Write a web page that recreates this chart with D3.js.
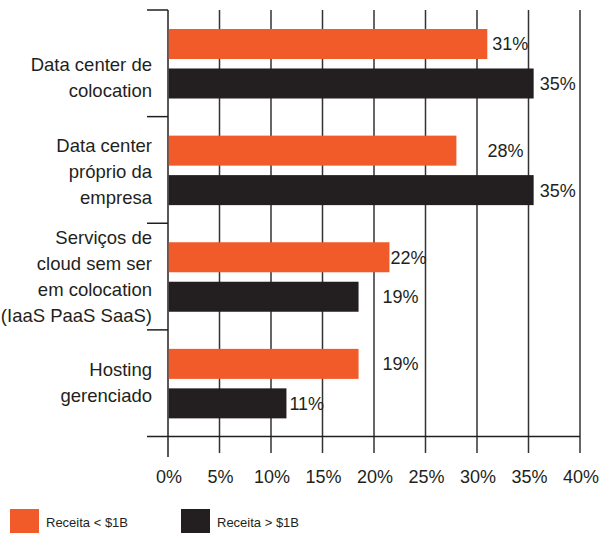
<!DOCTYPE html>
<html>
<head>
<meta charset="utf-8">
<script src="https://cdn.jsdelivr.net/npm/d3@7"></script>
<style>
  html, body { margin: 0; padding: 0; background: #fff; }
  svg { display: block; }
  text { font-family: "Liberation Sans", Arial, sans-serif; fill: #231F20; }
</style>
</head>
<body>
<script>
// ---- data ----
const categories = [
  ["Data center de", "colocation"],
  ["Data center", "próprio da", "empresa"],
  ["Serviços de", "cloud sem ser", "em colocation", "(IaaS PaaS SaaS)"],
  ["Hosting", "gerenciado"]
];
const seriesNames = ["Receita < $1B", "Receita > $1B"];
const valuesSmall = [31, 28, 21.5, 18.5];   // bar lengths
const valuesLarge = [35.5, 35.5, 18.5, 11.5];
const labelsSmall = ["31%", "28%", "22%", "19%"];
const labelsLarge = ["35%", "35%", "19%", "11%"];
const tickValues = [0, 5, 10, 15, 20, 25, 30, 35, 40];

// ---- layout / style ----
const W = 600, H = 533;
const colors = ["#F15A29", "#231F20"];
const labelDx = [[5, 31, 1, 24], [6, 6, 24, 3]];
const catDy = [14, 1, 0, -1];
const fs = 18, catFs = 18.5, lineH = 26;

const svg = d3.select("body").append("svg").attr("width", W).attr("height", H);

const x = d3.scaleLinear().domain([0, 40]).range([168, 580]);
const y = d3.scaleBand().domain(d3.range(categories.length)).range([10, 436.5]);
const ySub = d3.scaleBand().domain([0, 1]).range([19, 88.5]).paddingInner(0.24);

// gridlines + x ticks
svg.append("g").selectAll("line").data(tickValues.slice(1)).join("line")
  .attr("x1", d => x(d)).attr("x2", d => x(d))
  .attr("y1", 10).attr("y2", 453)
  .attr("stroke", "#333").attr("stroke-width", 1.5);

// category axis (vertical)
svg.append("line").attr("x1", x(0)).attr("x2", x(0)).attr("y1", 10).attr("y2", 457)
  .attr("stroke", "#231F20").attr("stroke-width", 1.5);
// category separators
const seps = d3.range(categories.length).map(i => y(i));
svg.append("g").selectAll("line").data(seps).join("line")
  .attr("x1", 147).attr("x2", x(0)).attr("y1", d => d).attr("y2", d => d)
  .attr("stroke", "#231F20").attr("stroke-width", 1.5);
// horizontal axis
svg.append("line").attr("x1", 147).attr("x2", x(40)).attr("y1", 436.5).attr("y2", 436.5)
  .attr("stroke", "#231F20").attr("stroke-width", 1.5);

// tick labels
svg.append("g").selectAll("text").data(tickValues).join("text")
  .attr("x", d => x(d) + 1).attr("y", 482.5)
  .attr("text-anchor", "middle").attr("font-size", fs)
  .text(d => d + "%");

// bars
const seriesVals = [valuesSmall, valuesLarge];
const seriesLabels = [labelsSmall, labelsLarge];
seriesVals.forEach((vals, s) => {
  const g = svg.append("g");
  g.selectAll("rect").data(vals).join("rect")
    .attr("x", x(0) + 0.75)
    .attr("y", (d, i) => y(i) + ySub(s))
    .attr("width", d => x(d) - x(0) - 0.75)
    .attr("height", ySub.bandwidth())
    .attr("fill", colors[s]);
  g.selectAll("text").data(vals).join("text")
    .attr("x", (d, i) => x(d) + labelDx[s][i])
    .attr("y", (d, i) => y(i) + ySub(s) + ySub.bandwidth() / 2 + fs * 0.36)
    .attr("font-size", fs)
    .text((d, i) => seriesLabels[s][i]);
});

// category labels
categories.forEach((lines, i) => {
  const cy = y(i) + y.bandwidth() / 2 + catDy[i];
  const t = svg.append("text").attr("text-anchor", "end").attr("font-size", catFs);
  lines.forEach((ln, j) => {
    t.append("tspan").attr("x", 152)
      .attr("y", cy + (j - (lines.length - 1) / 2) * lineH + catFs * 0.36)
      .text(ln);
  });
});

// legend
const legX = [10, 181];
seriesNames.forEach((name, s) => {
  svg.append("rect").attr("x", legX[s]).attr("y", 509).attr("width", 29).attr("height", 24)
    .attr("fill", colors[s]);
  svg.append("text").attr("x", legX[s] + 36).attr("y", 526.5)
    .attr("font-size", 13).text(name);
});
</script>
</body>
</html>
